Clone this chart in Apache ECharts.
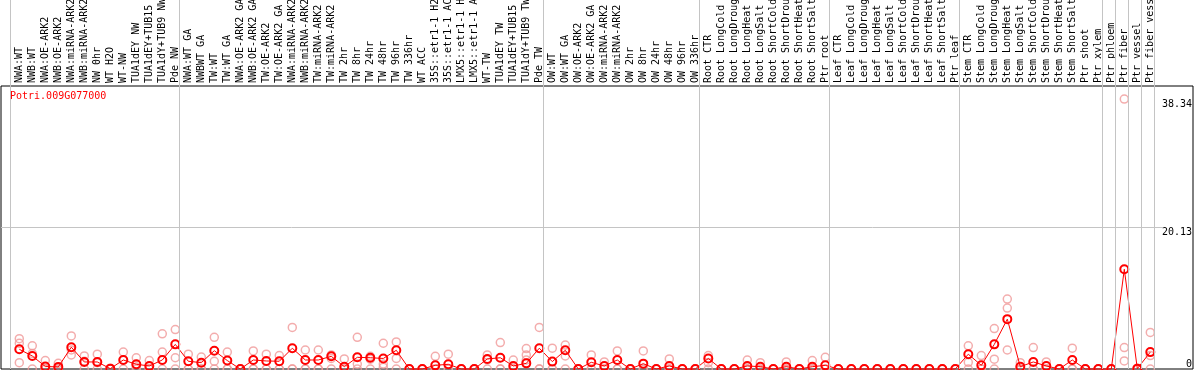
<!DOCTYPE html>
<html><head><meta charset="utf-8">
<script src="https://cdn.jsdelivr.net/npm/echarts@6/dist/echarts.min.js"></script>
<style>html,body{margin:0;padding:0;background:#fff}#c{width:1194px;height:370px}</style>
</head><body><div id="c"></div>
<script>
const geneId = 'Potri.009G077000';
const categories = [
  'NWA:WT','NWB:WT','NWA:OE-ARK2','NWB:OE-ARK2','NWA:miRNA-ARK2','NWB:miRNA-ARK2','NW 0hr','WT H2O','WT-NW','TUA1dEY NW','TUA1dEY+TUB15 NW','TUA1dY+TUB9 NW','Pde NW',
  'NWA:WT GA','NWBWT GA','TW:WT','TW:WT GA','NWA:OE-ARK2 GA','NWB:OE-ARK2 GA','TW:OE-ARK2','TW:OE-ARK2 GA','NWA:miRNA-ARK2','NWB:miRNA-ARK2','TW:miRNA-ARK2','TW:miRNA-ARK2',
  'TW 2hr','TW 8hr','TW 24hr','TW 48hr','TW 96hr','TW 336hr','WT ACC','35S::etr1-1 H2O','35S::etr1-1 ACC','LMX5::etr1-1 H2O','LMX5::etr1-1 ACC','WT-TW','TUA1dEY TW','TUA1dEY+TUB15 TW','TUA1dY+TUB9 TW','Pde TW',
  'OW:WT','OW:WT GA','OW:OE-ARK2','OW:OE-ARK2 GA','OW:miRNA-ARK2','OW:miRNA-ARK2','OW 2hr','OW 8hr','OW 24hr','OW 48hr','OW 96hr','OW 336hr',
  'Root CTR','Root LongCold','Root LongDrought','Root LongHeat','Root LongSalt','Root ShortCold','Root ShortDrought','Root ShortHeat','Root ShortSalt','Ptr root',
  'Leaf CTR','Leaf LongCold','Leaf LongDrought','Leaf LongHeat','Leaf LongSalt','Leaf ShortCold','Leaf ShortDrought','Leaf ShortHeat','Leaf ShortSalt','Ptr leaf',
  'Stem CTR','Stem LongCold','Stem LongDrought','Stem LongHeat','Stem LongSalt','Stem ShortCold','Stem ShortDrought','Stem ShortHeat','Stem ShortSalt','Ptr shoot','Ptr xylem',
  'Ptr phloem','Ptr fiber','Ptr vessel','Ptr fiber vessel'
];
const groupSizes = [13, 28, 12, 10, 10, 11, 1, 1, 1, 1];
const meanValues = [
  2.8,1.85,0.35,0.3,3.1,1.0,1.0,0.05,1.28,0.67,0.43,1.28,3.5,
  1.1,0.9,2.6,1.2,0,1.28,1.14,1.1,2.95,1.28,1.28,1.8,0.33,1.66,1.6,1.5,2.66,0,0,0.52,0.67,0,0,1.43,1.6,0.43,0.8,2.95,
  1.05,2.66,0,0.95,0.43,1.28,0,0.76,0,0.43,0,0,
  1.5,0,0,0.43,0.33,0,0.33,0,0.33,0.52,
  0,0,0,0,0,0,0,0,0,0,
  2.1,0.52,3.5,7.08,0.33,1.0,0.43,0,1.28,0,0,
  0,14.17,0.05,2.4
];
const rep1 = [
  4.3,3.3,1.2,0.8,4.7,1.85,2.1,0.1,2.4,1.6,1.2,5.0,5.6,
  2.1,1.7,4.5,2.4,0,2.57,2.1,1.9,5.9,2.7,2.7,2.0,1.43,4.5,1.8,3.66,3.85,0,0,1.8,2.1,0,0,2.0,3.75,1.28,2.9,5.9,
  2.95,3.4,0,2.0,1.0,2.57,0,2.57,0,1.43,0,0,
  1.9,0,0,1.28,0.9,0,1.0,0,1.2,1.66,
  0,0,0,0,0,0,0,0,0,0,
  3.3,1.9,5.75,9.93,0.9,3.04,1.0,0,2.95,0,0,
  0,38.34,0.1,5.2
];
const rep2 = [
  3.65,2.2,0,0.1,2.7,1.1,0.9,0,1.3,0.3,0,2.4,1.6,
  0,0,1.1,0,0,0,0,0,0,0,0,1.5,0,0.7,1.4,0.7,1.5,0,0,0,0,0,0,1.3,0,0,2.0,0,
  0,1.85,0,0,0,0,0,0,0,0,0,0,
  0.9,0,0,0,0,0,0,0,0,0,
  0,0,0,0,0,0,0,0,0,0,
  0.95,0,1.4,8.65,0,0,0,0,0,0,0,
  0,3.04,0,1.9
];
const rep3 = [
  0.9,0,0,0,2.0,0,0,0,0,0,0,0,0,
  0,0,0,0,0,0,0,0,0,0,0,0,0,0,0,0.25,0,0,0,0,0,0,0,0,0,0,1.28,0,
  0,0,0,0,0,0,0,0,0,0,0,0,
  0,0,0,0,0,0,0,0,0,0,
  0,0,0,0,0,0,0,0,0,0,
  0,0,0,2.7,0,0,0,0,0,0,0,
  0,1.14,0,0
];
const yTickLabels = [0, 20.13, 38.34];
const yGridValue = 20.13;
const yMax = 40.2;

// group boundaries (in category units)
const boundaries = [0];
groupSizes.forEach(s => boundaries.push(boundaries[boundaries.length - 1] + s));

const MONO = 'DejaVu Sans Mono';
const SLOT = 13;
const dataLeft = 12.8;
const sepZero = 10.7;
const frameLeft = 1, frameRight = 1193;
const vMin = -(sepZero - frameLeft) / SLOT;
const vMax = vMin + (frameRight - frameLeft) / SLOT;
const gridLineEnd = (1163 - sepZero) / SLOT;

const repStyle = {color: 'rgba(0,0,0,0)', borderColor: '#f09898', borderWidth: 1.5};
function repSeries(arr) {
  return {type: 'scatter', xAxisIndex: 0, yAxisIndex: 0, data: arr, symbol: 'circle', symbolSize: 8,
    itemStyle: repStyle, z: 2, silent: true, clip: false};
}

const chart = echarts.init(document.getElementById('c'), null, {renderer: 'canvas'});
chart.setOption({
  animation: false,
  backgroundColor: '#fff',
  title: {text: geneId, left: 10, top: 91, padding: 0,
    textStyle: {color: '#ff0000', fontFamily: MONO, fontSize: 10, fontWeight: 'normal'}},
  grid: [
    {left: dataLeft, width: SLOT * categories.length, top: 86, bottom: 1, outerBoundsMode: 'none', containLabel: false},
    {left: frameLeft, right: 1194 - frameRight, top: 0, bottom: 1, outerBoundsMode: 'none', containLabel: false},
    {left: frameLeft, right: 1194 - frameRight, top: 86, bottom: 1, outerBoundsMode: 'none', containLabel: false,
      show: true, borderColor: '#000', borderWidth: 1, backgroundColor: 'rgba(0,0,0,0)'}
  ],
  xAxis: [
    {type: 'category', gridIndex: 0, data: categories, position: 'top', boundaryGap: true,
      axisLine: {show: false}, axisTick: {show: false}, splitLine: {show: false},
      axisLabel: {interval: 0, rotate: 90, margin: 3, hideOverlap: false, fontFamily: MONO, fontSize: 10, color: '#000'}},
    {type: 'value', gridIndex: 1, min: vMin, max: vMax, show: false},
    {type: 'value', gridIndex: 2, min: vMin, max: vMax, show: false}
  ],
  yAxis: [
    {type: 'value', gridIndex: 0, min: 0, max: yMax, show: false},
    {type: 'value', gridIndex: 1, min: 0, max: 1, position: 'left',
      axisLine: {show: true, lineStyle: {color: '#000', width: 1}}, axisTick: {show: false},
      axisLabel: {show: false}, splitLine: {show: false}},
    {type: 'value', gridIndex: 2, min: 0, max: yMax, position: 'right',
      axisLine: {show: false}, axisTick: {show: false}, splitLine: {show: false},
      axisLabel: {inside: true, margin: 1, customValues: yTickLabels.filter(v => v > 0), verticalAlign: 'top',
        fontFamily: MONO, fontSize: 10, color: '#000', formatter: v => String(v)}},
    {type: 'value', gridIndex: 2, min: 0, max: yMax, position: 'right',
      axisLine: {show: false}, axisTick: {show: false}, splitLine: {show: false},
      axisLabel: {inside: true, margin: 1, customValues: yTickLabels.filter(v => v === 0), verticalAlign: 'bottom',
        fontFamily: MONO, fontSize: 10, color: '#000', formatter: v => String(v)}}
  ],
  series: [
    {type: 'line', xAxisIndex: 1, yAxisIndex: 1, data: [], silent: true, z: 1,
      markLine: {silent: true, symbol: ['none', 'none'], label: {show: false}, animation: false,
        lineStyle: {color: '#c4c4c4', width: 1, type: 'solid'},
        data: boundaries.map(b => ({xAxis: b}))}},
    {type: 'line', xAxisIndex: 2, yAxisIndex: 2, data: [], silent: true, z: 1,
      markLine: {silent: true, symbol: ['none', 'none'], label: {show: false}, animation: false,
        lineStyle: {color: '#c4c4c4', width: 1, type: 'solid'},
        data: [[{coord: [vMin, yGridValue]}, {coord: [gridLineEnd, yGridValue]}]]}},
    repSeries(rep1), repSeries(rep2), repSeries(rep3),
    {type: 'line', xAxisIndex: 0, yAxisIndex: 0, data: meanValues, symbol: 'circle', symbolSize: 8,
      showAllSymbol: true, clip: false, z: 3, silent: true,
      lineStyle: {color: '#ff0000', width: 1},
      itemStyle: {color: 'rgba(255,255,255,0)', borderColor: '#ff0000', borderWidth: 2}}
  ]
});
</script></body></html>
